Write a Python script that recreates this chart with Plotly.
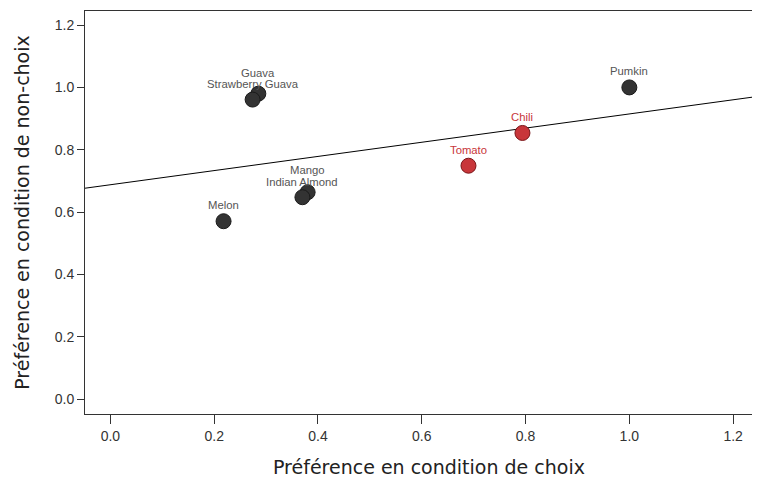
import plotly.graph_objects as go

# data
foods = ["Pumkin", "Chili", "Tomato", "Guava", "Strawberry Guava", "Mango", "Indian Almond", "Melon"]
choice_pref = [1.0, 0.794, 0.690, 0.285, 0.274, 0.380, 0.370, 0.218]
nonchoice_pref = [1.0, 0.854, 0.749, 0.980, 0.961, 0.664, 0.648, 0.571]
highlight = [False, True, True, False, False, False, False, False]
fit_intercept = 0.688
fit_slope = 0.227
x_ticks = [0.0, 0.2, 0.4, 0.6, 0.8, 1.0, 1.2]
y_ticks = [0.0, 0.2, 0.4, 0.6, 0.8, 1.0, 1.2]

# style
label_shift = {"Guava": 21, "Mango": 22, "Indian Almond": 15.5}
RED = "#c8363a"
DARK = "#333333"

x_range = [-0.049, 1.246]
y_range = [-0.047, 1.245]

fig = go.Figure()

line_x = x_range
line_y = [fit_intercept + fit_slope * v for v in line_x]
fig.add_trace(go.Scatter(x=line_x, y=line_y, mode="lines",
                         line=dict(color="black", width=1), hoverinfo="skip"))

colors = [RED if h else DARK for h in highlight]
outlines = ["#7a1518" if h else "#1a1a1a" for h in highlight]
fig.add_trace(go.Scatter(x=choice_pref, y=nonchoice_pref, mode="markers",
                         marker=dict(size=15, color=colors,
                                     line=dict(color=outlines, width=1))))

for name, xv, yv, h in zip(foods, choice_pref, nonchoice_pref, highlight):
    fig.add_annotation(x=xv, y=yv, text=name, showarrow=False,
                       yshift=label_shift.get(name, 16),
                       font=dict(family="Liberation Sans, Arial", size=11.3,
                                 color=RED if h else "#555555"))

fig.add_annotation(x=0.512, y=0, xref="paper", yref="paper", yanchor="middle",
                   yshift=-53, showarrow=False,
                   text="Préférence en condition de choix",
                   font=dict(family="DejaVu Sans, Verdana", size=19, color="#222222"))

fig.update_layout(
    width=752, height=475,
    margin=dict(l=77, r=3, t=3, b=69),
    paper_bgcolor="white", plot_bgcolor="white",
    showlegend=False,
    font=dict(family="Liberation Sans, Arial", size=14, color="#333333"),
    xaxis=dict(range=x_range, tickvals=x_ticks, ticktext=[f"{v:.1f}" for v in x_ticks],
               showgrid=False, zeroline=False, showline=True, mirror=True,
               linecolor="#333333", linewidth=1, ticks="outside", ticklen=9,
               tickcolor="#333333"),
    yaxis=dict(range=y_range, tickvals=y_ticks, ticktext=[f"{v:.1f}" for v in y_ticks],
               showgrid=False, zeroline=False, showline=True, mirror=True,
               linecolor="#333333", linewidth=1, ticks="outside", ticklen=7,
               tickcolor="#333333",
               title=dict(text="Préférence en condition de non-choix",
                          font=dict(family="DejaVu Sans, Verdana", size=19, color="#222222"),
                          standoff=20)),
)

fig.write_html("out.html")
